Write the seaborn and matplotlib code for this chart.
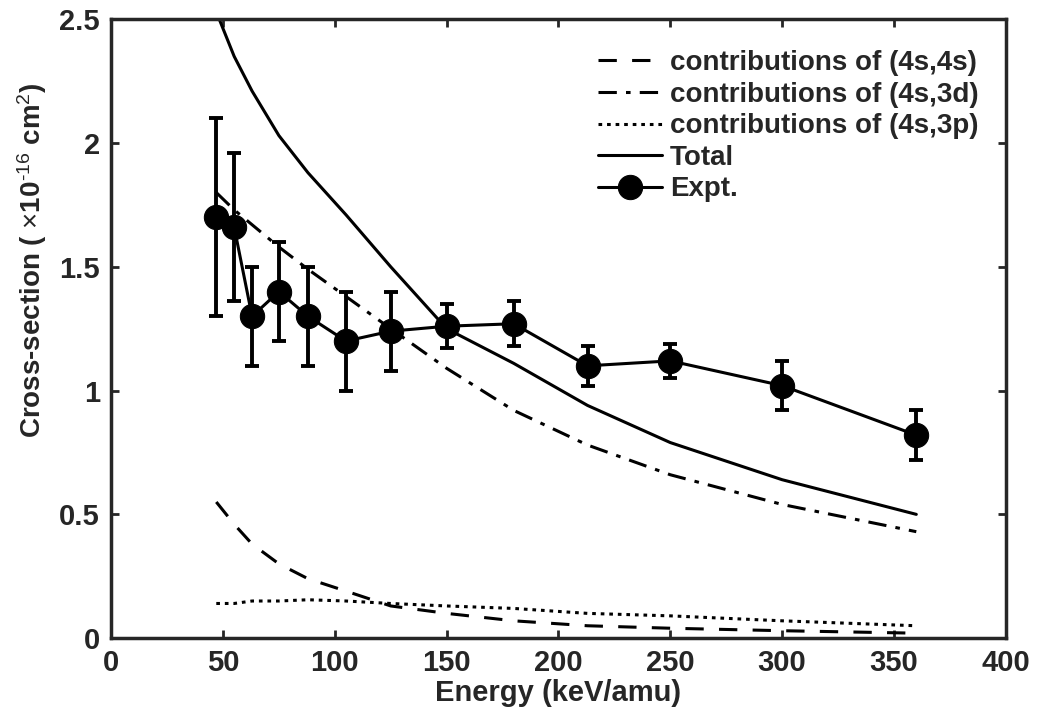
import numpy as np
import pandas as pd
import matplotlib
matplotlib.use("Agg")
import matplotlib.pyplot as plt
import seaborn as sns

energy = [47, 55, 63, 75, 88, 105, 125, 150, 180, 213, 250, 300, 360]
c_4s4s = [0.55, 0.46, 0.38, 0.30, 0.24, 0.19, 0.13, 0.10, 0.07, 0.05, 0.04, 0.03, 0.02]
c_4s3d = [1.80, 1.73, 1.67, 1.58, 1.49, 1.38, 1.25, 1.09, 0.92, 0.78, 0.66, 0.54, 0.43]
c_4s3p = [0.14, 0.14, 0.15, 0.15, 0.155, 0.15, 0.14, 0.13, 0.12, 0.10, 0.09, 0.07, 0.05]
total = [2.53, 2.35, 2.21, 2.03, 1.88, 1.71, 1.50, 1.25, 1.11, 0.94, 0.79, 0.64, 0.50]

expt_x = [47, 55, 63, 75, 88, 105, 125, 150, 180, 213, 250, 300, 360]
expt_y = [1.70, 1.66, 1.30, 1.40, 1.30, 1.20, 1.24, 1.26, 1.27, 1.10, 1.12, 1.02, 0.82]
expt_err = [0.40, 0.30, 0.20, 0.20, 0.20, 0.20, 0.16, 0.09, 0.09, 0.08, 0.07, 0.10, 0.10]

labels = ["contributions of (4s,4s)", "contributions of (4s,3d)",
          "contributions of (4s,3p)", "Total", "Expt."]

sns.set_style("ticks")
plt.rcParams['font.family'] = ['Liberation Sans', 'DejaVu Sans']
plt.rcParams['mathtext.fontset'] = 'custom'
plt.rcParams['mathtext.rm'] = 'Liberation Sans'
plt.rcParams['mathtext.it'] = 'Liberation Sans:italic'
plt.rcParams['mathtext.bf'] = 'Liberation Sans:bold'

fig = plt.figure(figsize=(10.39, 7.13), dpi=100)
ax = fig.add_axes([0.107, 0.105, 0.861, 0.868])

lw = 2.2
df = pd.DataFrame({"E": energy, "a": c_4s4s, "b": c_4s3d, "c": c_4s3p, "t": total})
sns.lineplot(data=df, x="E", y="a", ax=ax, color="black", lw=lw, label=labels[0])
ax.lines[-1].set_dashes([6, 5])
sns.lineplot(data=df, x="E", y="b", ax=ax, color="black", lw=lw, label=labels[1])
ax.lines[-1].set_dashes([6, 3, 1.5, 3])
sns.lineplot(data=df, x="E", y="c", ax=ax, color="black", lw=lw, label=labels[2])
ax.lines[-1].set_dashes([1.2, 1.6])
sns.lineplot(data=df, x="E", y="t", ax=ax, color="black", lw=lw, label=labels[3])

ax.errorbar(expt_x, expt_y, yerr=expt_err, fmt="none", ecolor="black",
            elinewidth=2.8, capsize=5, capthick=2.8, zorder=3)
dfe = pd.DataFrame({"E": expt_x, "y": expt_y})
sns.lineplot(data=dfe, x="E", y="y", ax=ax, color="black", lw=lw,
             marker="o", markersize=17.5, markeredgecolor="black", label=labels[4], zorder=4)

ax.set_xlim(0, 400)
ax.set_ylim(0, 2.5)
ax.set_xticks([0, 50, 100, 150, 200, 250, 300, 350, 400])
ax.set_yticks([0, 0.5, 1, 1.5, 2, 2.5])
ax.set_yticklabels(["0", "0.5", "1", "1.5", "2", "2.5"])
ax.tick_params(direction="in", length=6, width=2, top=True, right=True,
               labelsize=21, pad=8, colors="#262626")
for t in ax.get_xticklabels() + ax.get_yticklabels():
    t.set_fontweight("bold")
    t.set_color("#262626")
for s in ax.spines.values():
    s.set_linewidth(2.5)
    s.set_color("#262626")

ax.set_xlabel("Energy (keV/amu)", fontsize=21, fontweight="bold", labelpad=1, color="#262626")
ax.set_ylabel(r"Cross-section ( $\times$10$^{\text{-16}}$ cm$^{\text{2}}$)", fontsize=20,
              fontweight="bold", color="#262626")
ax.yaxis.set_label_coords(-0.07, 0.61)

leg = ax.legend(loc="upper right", frameon=False, fontsize=20, handlelength=2.3,
                handletextpad=0.3, labelspacing=0.2, borderaxespad=0.0,
                bbox_to_anchor=(0.982, 0.968))
for t in leg.get_texts():
    t.set_fontweight("bold")

fig.savefig("out.png", dpi=100)
